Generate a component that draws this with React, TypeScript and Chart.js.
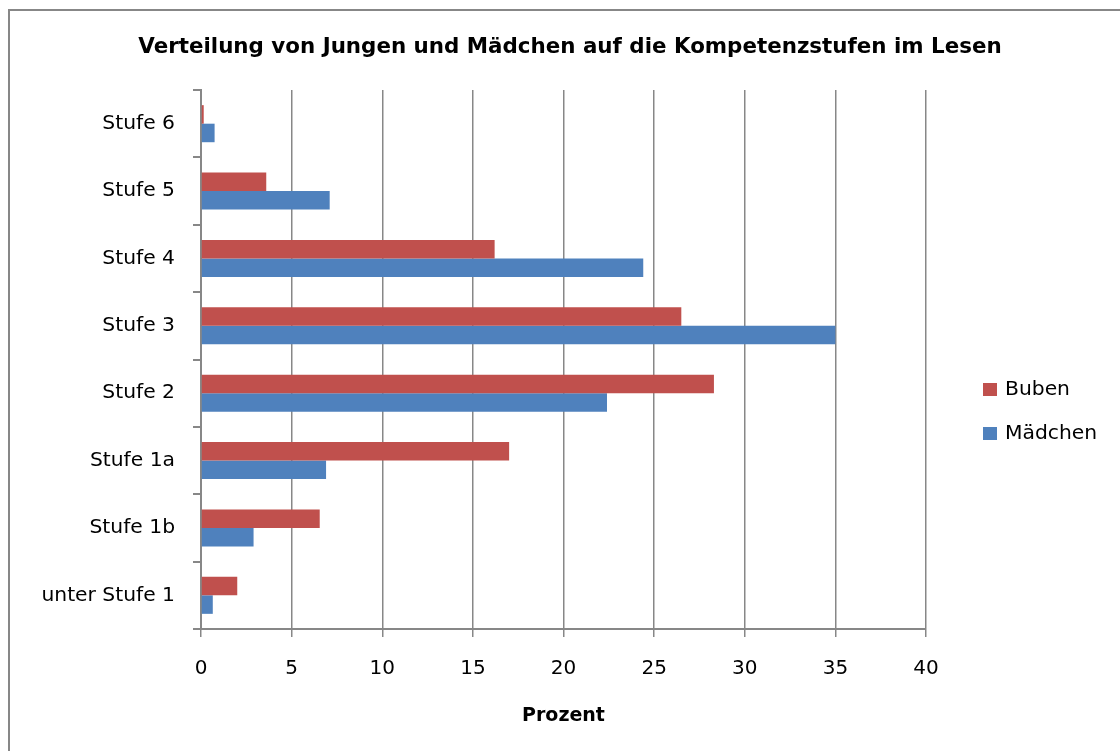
import React, { useEffect, useRef } from "react";
import { Chart, registerables } from "chart.js";

Chart.register(...registerables);

const categories = ["Stufe 6", "Stufe 5", "Stufe 4", "Stufe 3", "Stufe 2", "Stufe 1a", "Stufe 1b", "unter Stufe 1"];
const seriesNames = ["Buben", "Mädchen"];
const buben = [0.15, 3.6, 16.2, 26.5, 28.3, 17.0, 6.55, 2.0];
const maedchen = [0.75, 7.1, 24.4, 35.0, 22.4, 6.9, 2.9, 0.65];
const seriesColors = ["#C0504D", "#4F81BD"];
const chartTitle = "Verteilung von Jungen und Mädchen auf die Kompetenzstufen im Lesen";
const xAxisTitle = "Prozent";
const xMin = 0;
const xMax = 40;
const xStep = 5;

const FONT = "'DejaVu Sans', 'Noto Sans', sans-serif";
const GRID = "#878787";

const decorPlugin = {
  id: "decor",
  beforeDraw(chart: any) {
    const ctx = chart.ctx;
    ctx.save();
    ctx.fillStyle = "#ffffff";
    ctx.fillRect(0, 0, chart.width, chart.height);
    ctx.restore();
  },
  afterDraw(chart: any) {
    const ctx = chart.ctx;
    ctx.save();
    // outer border
    ctx.strokeStyle = GRID;
    ctx.lineWidth = 2;
    ctx.beginPath();
    ctx.moveTo(9, 2000);
    ctx.lineTo(9, 10);
    ctx.lineTo(2000, 10);
    ctx.stroke();
    // title
    ctx.fillStyle = "#000";
    ctx.font = `bold 21.4px ${FONT}`;
    ctx.textAlign = "center";
    ctx.textBaseline = "alphabetic";
    ctx.fillText(chartTitle, 570, 53);
    // legend
    const ds = chart.data.datasets;
    const ys = [389, 433];
    ctx.font = `20.3px ${FONT}`;
    ctx.textAlign = "left";
    ctx.textBaseline = "middle";
    ds.forEach((d: any, i: number) => {
      ctx.fillStyle = d.backgroundColor;
      ctx.fillRect(983, ys[i] - 6, 14, 13);
      ctx.fillStyle = "#000";
      ctx.fillText(d.label, 1005, ys[i] + 1);
    });
    ctx.restore();
  },
};

export default function App() {
  const ref = useRef<HTMLCanvasElement | null>(null);
  useEffect(() => {
    if (!ref.current) return;
    const chart = new Chart(ref.current, {
      type: "bar",
      data: {
        labels: categories,
        datasets: [
          { label: seriesNames[0], data: buben, backgroundColor: seriesColors[0], borderWidth: 0 },
          { label: seriesNames[1], data: maedchen, backgroundColor: seriesColors[1], borderWidth: 0 },
        ],
      },
      options: {
        indexAxis: "y",
        animation: false,
        responsive: false,
        devicePixelRatio: 1,
        layout: { padding: { left: 0, right: 194, top: 90, bottom: 0 } },
        datasets: { bar: { categoryPercentage: 0.55, barPercentage: 1 } },
        plugins: {
          legend: { display: false },
          title: { display: false },
          tooltip: { enabled: false },
        },
        scales: {
          x: {
            type: "linear",
            min: xMin,
            max: xMax,
            ticks: { stepSize: xStep, color: "#000", font: { family: FONT, size: 20 }, padding: 20, maxRotation: 0 },
            grid: { color: GRID, lineWidth: 1.5, tickLength: 8, drawTicks: true },
            border: { color: GRID, width: 2 },
            title: { display: true, text: xAxisTitle, color: "#000", font: { family: FONT, size: 19, weight: "bold" }, padding: { top: 0, bottom: 24 } },
            afterFit(scale: any) {
              scale.height = 122;
            },
          },
          y: {
            type: "category",
            ticks: { color: "#000", font: { family: FONT, size: 20.3 }, padding: 18 },
            grid: { drawOnChartArea: false, offset: true, color: GRID, lineWidth: 2, tickLength: 8 },
            border: { color: GRID, width: 2 },
            afterFit(scale: any) {
              scale.width = 201;
            },
          },
        },
      },
      plugins: [decorPlugin],
    } as any);
    return () => chart.destroy();
  }, []);
  return (
    <div style={{ position: "absolute", left: 0, top: 0, width: 1120, height: 751 }}>
      <canvas ref={ref} width={1120} height={751} style={{ width: 1120, height: 751, display: "block" }} />
    </div>
  );
}
